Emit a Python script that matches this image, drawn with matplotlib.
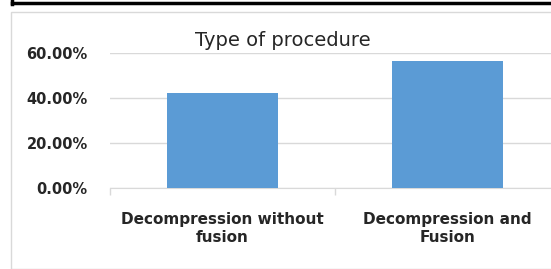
import matplotlib.pyplot as plt
from matplotlib.patches import Rectangle
from matplotlib.lines import Line2D

categories = ["Decompression without\nfusion", "Decompression and\nFusion"]
percent = [42.4, 56.5]
yticks = [0, 20, 40, 60]
title = "Type of procedure"

W, H = 551, 269
fig = plt.figure(figsize=(W / 100, H / 100), dpi=100)

# axes in pixel units, converted to fractions
ax = fig.add_axes([110 / W, 1 - 188 / H, 450 / W, 135 / H])

x = range(len(categories))
ax.bar(x, percent, width=0.49, color="#5B9BD5", zorder=3)

ax.set_xlim(-0.5, 1.5)
ax.set_ylim(0, 60)
ax.set_yticks(yticks)
ax.set_yticklabels(["{:.2f}%".format(v) for v in yticks],
                   fontsize=10.5, fontweight="bold", color="#262626")
ax.tick_params(axis="y", length=0, pad=16)
ax.grid(axis="y", color="#D9D9D9", linewidth=1, zorder=0)

ax.set_xticks(list(x))
ax.set_xticklabels(categories, fontsize=11, fontweight="bold",
                   color="#262626", linespacing=1.3)
ax.set_xticks([-0.5, 0.5, 1.5], minor=True)
ax.tick_params(axis="x", which="major", length=0, pad=17)
ax.tick_params(axis="x", which="minor", length=5, color="#D9D9D9", width=1)

for s in ["top", "right", "left"]:
    ax.spines[s].set_visible(False)
ax.spines["bottom"].set_color("#D9D9D9")

fig.text(283 / W, 1 - 40 / H, title, ha="center", va="center",
         fontsize=14, color="#262626")

# chart area border and the black box edge above it
fig.patches.append(Rectangle((10.5 / W, 0.5 / H), 560 / W, (268 - 11.5) / H,
                             transform=fig.transFigure, fill=False,
                             edgecolor="#D9D9D9", linewidth=1))
fig.lines.append(Line2D([12 / W, 1], [1 - 2.5 / H, 1 - 2.5 / H],
                        transform=fig.transFigure, color="black", linewidth=2.5))
fig.lines.append(Line2D([12 / W, 12 / W], [1 - 4 / H, 1],
                        transform=fig.transFigure, color="black", linewidth=2.5))

fig.savefig("out.png", dpi=100)
